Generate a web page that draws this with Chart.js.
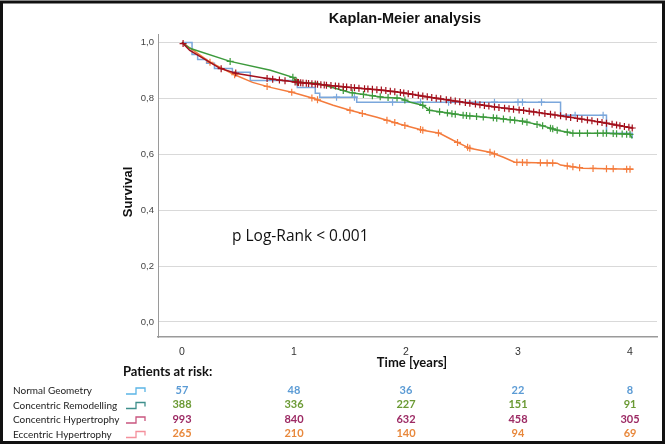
<!DOCTYPE html>
<html>
<head>
<meta charset="utf-8">
<script src="https://cdn.jsdelivr.net/npm/chart.js@4.4.0/dist/chart.umd.min.js"></script>
<style>
  html, body { margin: 0; padding: 0; background: #fff; }
  #wrap { width: 668px; height: 445px; position: relative; }
</style>
</head>
<body>
<div id="wrap"><canvas id="kmChart"></canvas></div>
<script>
// Kaplan-Meier curves (time in years, survival 0..1)
const groups = ["Normal Geometry", "Concentric Remodelling", "Concentric Hypertrophy", "Eccentric Hypertrophy"];

const ngTime = [0, 0.09, 0.14, 0.22, 0.29, 0.45, 0.61, 1.03, 1.19, 1.23, 1.56, 3.38, 3.79, 4.02];
const ngSurv = [1, 0.957, 0.939, 0.925, 0.907, 0.893, 0.864, 0.839, 0.818, 0.804, 0.786, 0.739, 0.675, 0.657];
const ngCensor = [1.38, 1.54, 1.88, 2.13, 2.38, 2.79, 3.0, 3.04, 3.21, 3.51, 3.76];

const crTime = [0, 0.07, 0.43, 0.79, 0.99, 1.03, 1.21, 1.5, 1.79, 1.95, 2.04, 2.15, 2.21, 2.51, 2.81, 3.04, 3.2, 3.35, 3.49, 3.79, 4.0, 4.02];
const crSurv = [1, 0.979, 0.932, 0.9, 0.875, 0.857, 0.854, 0.821, 0.804, 0.8, 0.786, 0.775, 0.757, 0.739, 0.729, 0.718, 0.704, 0.686, 0.675, 0.675, 0.671, 0.657];
const crCensor = [0.43, 0.99, 1.02, 1.04, 1.44, 1.52, 1.62, 1.7, 1.77, 1.84, 1.92, 1.99, 2.15, 2.21, 2.3, 2.37, 2.41, 2.44, 2.51, 2.54, 2.57, 2.63, 2.69, 2.78, 2.81, 2.87, 2.93, 2.97, 3.04, 3.08, 3.17, 3.22, 3.29, 3.31, 3.35, 3.44, 3.49, 3.55, 3.62, 3.71, 3.76, 3.79, 3.85, 3.88, 3.93, 3.97, 4.0];

const chTime = [0, 0.07, 0.34, 0.49, 0.76, 1.03, 1.21, 1.5, 1.79, 1.95, 2.21, 2.51, 2.81, 3.04, 3.35, 3.64, 3.79, 4.03];
const chSurv = [1, 0.971, 0.907, 0.889, 0.871, 0.857, 0.85, 0.839, 0.829, 0.821, 0.804, 0.786, 0.768, 0.757, 0.739, 0.721, 0.711, 0.693];
const chCensor = [0.01, 0.35, 0.48, 0.76, 0.81, 0.87, 0.92, 1.01, 1.03, 1.04, 1.06, 1.08, 1.11, 1.13, 1.16, 1.19, 1.21, 1.24, 1.27, 1.29, 1.33, 1.37, 1.4, 1.44, 1.47, 1.51, 1.54, 1.58, 1.63, 1.66, 1.7, 1.74, 1.78, 1.82, 1.86, 1.9, 1.95, 1.98, 2.02, 2.06, 2.11, 2.15, 2.19, 2.23, 2.27, 2.31, 2.36, 2.4, 2.44, 2.48, 2.53, 2.57, 2.62, 2.66, 2.7, 2.74, 2.79, 2.83, 2.88, 2.92, 2.96, 3.01, 3.05, 3.1, 3.14, 3.19, 3.24, 3.29, 3.33, 3.38, 3.43, 3.47, 3.53, 3.57, 3.62, 3.66, 3.71, 3.75, 3.79, 3.84, 3.88, 3.91, 3.95, 3.99, 4.02];

const ehTime = [0, 0.25, 0.46, 0.63, 0.79, 0.99, 1.17, 1.35, 1.5, 1.74, 1.95, 2.15, 2.3, 2.42, 2.57, 2.75, 2.87, 2.97, 3.35, 3.38, 3.58, 4.03];
const ehSurv = [1, 0.929, 0.886, 0.857, 0.839, 0.821, 0.8, 0.775, 0.757, 0.732, 0.707, 0.686, 0.675, 0.65, 0.621, 0.607, 0.589, 0.571, 0.568, 0.561, 0.55, 0.546];
const ehCensor = [0.25, 0.47, 0.76, 0.98, 1.16, 1.21, 1.5, 1.61, 1.83, 1.9, 1.99, 2.13, 2.15, 2.29, 2.46, 2.55, 2.57, 2.75, 2.79, 2.99, 3.04, 3.08, 3.2, 3.26, 3.31, 3.44, 3.49, 3.55, 3.67, 3.79, 3.85, 3.97, 4.0];

// patients at risk at years 0..4
const xTickValues = [0, 1, 2, 3, 4];
const yTickValues = [0, 0.2, 0.4, 0.6, 0.8, 1.0];
const ngRisk = [57, 48, 36, 22, 8];
const crRisk = [388, 336, 227, 151, 91];
const chRisk = [993, 840, 632, 458, 305];
const ehRisk = [265, 210, 140, 94, 69];

const lineColors = ["#7ba7dc", "#3c9a3c", "#a3101c", "#f47b3c"];
const riskColors = ["#5b9bd5", "#6b9a34", "#9c2a64", "#e8883c"];
const iconColors = ["#5bb5e6", "#3f8f8c", "#c9567f", "#f4909c"];

// survival value at time t (for placing the censor marks on the curve)
function survAt(times, surv, t, stepped) {
  let i = 0;
  while (i < times.length - 1 && times[i + 1] <= t) i++;
  if (stepped || i === times.length - 1) return surv[i];
  const f = (t - times[i]) / (times[i + 1] - times[i]);
  return surv[i] + f * (surv[i + 1] - surv[i]);
}

function curve(times, surv, color, stepped) {
  return {
    data: times.map((t, i) => ({ x: t, y: surv[i] })),
    showLine: true,
    borderColor: color,
    borderWidth: 1.5,
    stepped: stepped,
    tension: 0,
    pointRadius: 0,
    fill: false,
  };
}

function censor(ct, times, surv, color, stepped) {
  return {
    data: ct.map((t) => ({ x: t, y: survAt(times, surv, t, stepped) })),
    showLine: false,
    pointStyle: "cross",
    pointRadius: 3.5,
    borderColor: color,
    borderWidth: 1.2,
  };
}

const series = [
  { times: ngTime, surv: ngSurv, cens: ngCensor, stepped: true },
  { times: crTime, surv: crSurv, cens: crCensor, stepped: false },
  { times: chTime, surv: chSurv, cens: chCensor, stepped: false },
  { times: ehTime, surv: ehSurv, cens: ehCensor, stepped: false },
];
const risks = [ngRisk, crRisk, chRisk, ehRisk];

// first dataset is drawn on top: red, green, orange, blue
const drawOrder = [2, 1, 3, 0];
const datasets = [];
drawOrder.forEach((g) => {
  const s = series[g];
  datasets.push(curve(s.times, s.surv, lineColors[g], s.stepped));
  datasets.push(censor(s.cens, s.times, s.surv, lineColors[g], s.stepped));
});

const decorPlugin = {
  id: "decor",
  beforeDraw(chart) {
    const { ctx } = chart;
    ctx.save();
    ctx.fillStyle = "#fff";
    ctx.fillRect(0, 0, chart.width, chart.height);
    ctx.restore();
  },
  afterDraw(chart) {
    const { ctx } = chart;
    const xs = chart.scales.x;
    ctx.save();

    // frame
    ctx.strokeStyle = "#111";
    ctx.lineWidth = 3;
    ctx.strokeRect(1.5, 2, 662, 440.5);

    ctx.fillStyle = "#111";
    ctx.textAlign = "center";
    ctx.textBaseline = "middle";

    // title
    ctx.font = "bold 14.5px 'Liberation Sans'";
    ctx.fillText("Kaplan-Meier analysis", 405, 19);

    // y title
    ctx.save();
    ctx.translate(128, 192);
    ctx.rotate(-Math.PI / 2);
    ctx.font = "bold 13px 'Liberation Sans'";
    ctx.fillText("Survival", 0, 0);
    ctx.restore();

    // log-rank
    ctx.textAlign = "left";
    ctx.font = "15.5px 'Open Sans'";
    ctx.fillText("p Log-Rank < 0.001", 232, 237);

    // x title
    ctx.textAlign = "center";
    ctx.font = "bold 13px Lato";
    ctx.fillText("Time [years]", 412, 363);

    // patients at risk
    ctx.textAlign = "left";
    ctx.font = "bold 13px Lato";
    ctx.fillText("Patients at risk:", 123, 372);

    const rowY = [391, 405.5, 420, 434.5];
    groups.forEach((name, g) => {
      const y = rowY[g];
      ctx.textAlign = "left";
      ctx.fillStyle = "#222";
      ctx.font = "10px Lato";
      ctx.fillText(name, 13, y);

      // step icon
      ctx.strokeStyle = iconColors[g];
      ctx.lineWidth = 1.3;
      ctx.beginPath();
      ctx.moveTo(126, y + 3);
      ctx.lineTo(136, y + 3);
      ctx.lineTo(136, y - 3);
      ctx.lineTo(145, y - 3);
      ctx.lineTo(145, y + 1);
      ctx.stroke();

      ctx.textAlign = "center";
      ctx.fillStyle = riskColors[g];
      ctx.font = "bold 11px Lato";
      risks[g].forEach((n, i) => {
        ctx.fillText(String(n), xs.getPixelForValue(xTickValues[i]), y - 1);
      });
    });
    ctx.restore();
  },
};

new Chart(document.getElementById("kmChart"), {
  type: "scatter",
  data: { datasets },
  options: {
    responsive: true,
    maintainAspectRatio: false,
    animation: false,
    layout: { padding: { left: 134, right: 11, top: 34, bottom: 78 } },
    plugins: {
      legend: { display: false },
      tooltip: { enabled: false },
    },
    scales: {
      x: {
        type: "linear",
        min: -0.214,
        max: 4.241,
        afterBuildTicks: (scale) => {
          scale.ticks = xTickValues.map((v) => ({ value: v }));
        },
        afterFit: (scale) => {
          scale.height = 30;
        },
        grid: { display: false },
        border: { display: true, color: "#9a9a9a", width: 1.5 },
        ticks: {
          padding: 1,
          color: "#333",
          font: { family: "'Liberation Sans'", size: 10.5 },
          callback: (v) => String(v),
        },
      },
      y: {
        min: -0.054,
        max: 1.03,
        afterBuildTicks: (scale) => {
          scale.ticks = yTickValues.map((v) => ({ value: v }));
        },
        afterFit: (scale) => {
          scale.width = 24;
        },
        grid: { color: "#d9d9d9", lineWidth: 1, drawTicks: false },
        border: { display: true, color: "#9a9a9a", width: 1 },
        ticks: {
          padding: 4,
          color: "#444",
          font: { family: "'Liberation Sans'", size: 9.5 },
          callback: (v) => v.toFixed(1).replace(".", ","),
        },
      },
    },
  },
  plugins: [decorPlugin],
});
</script>
</body>
</html>
